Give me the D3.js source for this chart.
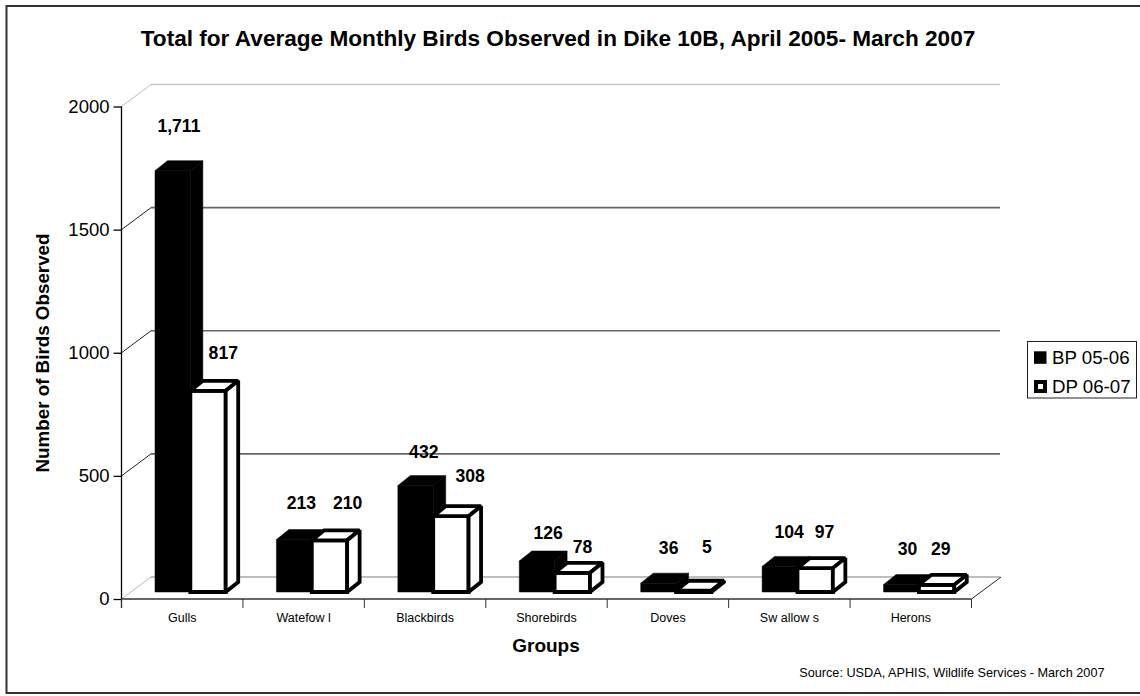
<!DOCTYPE html>
<html>
<head>
<meta charset="utf-8">
<script src="https://cdn.jsdelivr.net/npm/d3@7/dist/d3.min.js"></script>
<style>
html,body{margin:0;padding:0;background:#fff;overflow:hidden}
svg{display:block}
text{font-family:"Liberation Sans",Arial,sans-serif;fill:#000}
</style>
</head>
<body>
<svg id="c" width="1140" height="696"></svg>
<script>
// ---- data ----
const categories = ["Gulls","Watefow l","Blackbirds","Shorebirds","Doves","Sw allow s","Herons"];
const seriesNames = ["BP 05-06","DP 06-07"];
const bp0506 = [1711,213,432,126,36,104,30];
const dp0607 = [817,210,308,78,5,97,29];
const yTicks = [0,500,1000,1500,2000];
// label nudges (px) relative to the top of each bar, per series
const nudgeXBP = [0,1,2,5,4,3,0];
const nudgeYBP = [-35,-27,-24,-18,-25,-25,-26];
const nudgeXDP = [9,12,13,4,7,3,-2];
const nudgeYDP = [-28,-27,-30,-16,-34,-26,-26];

// ---- layout ----
const svg = d3.select("#c");
const depthX = 29.5, depthY = -22;     // chart floor depth
const barDX = 12.5, barDY = -10;       // bar depth
const floorInset = 7;                  // bars stand this far behind the front axis
const x = d3.scaleBand().domain(categories).range([121.5,971.5]);
const inner = d3.scaleBand().domain(seriesNames).range([33.5,104.2]);
const y = d3.scaleLinear().domain([0,2000]).range([599,106.5]);

// frame
svg.append("rect").attr("x",6.5).attr("y",6).attr("width",1160).attr("height",687)
  .attr("fill","#fff").attr("stroke","#333").attr("stroke-width",2);

// back wall grid + left wall diagonals
const gridColor = v => v===2000 ? "#c8c8c8" : v===0 ? "#a8a8a8" : "#666";
const g = svg.append("g");
g.selectAll("line.grid").data(yTicks).join("line").attr("class","grid")
  .attr("x1",121.5+depthX).attr("x2",971.5+depthX-1)
  .attr("y1",d=>y(d)+depthY).attr("y2",d=>y(d)+depthY)
  .attr("stroke",gridColor).attr("stroke-width",1.6);
g.selectAll("line.diag").data(yTicks).join("line").attr("class","diag")
  .attr("x1",121.5).attr("x2",121.5+depthX)
  .attr("y1",d=>y(d)).attr("y2",d=>y(d)+depthY)
  .attr("stroke",d=>d===2000||d===0?"#bbb":"#222").attr("stroke-width",1);
g.append("line").attr("x1",971.5).attr("x2",971.5+depthX)
  .attr("y1",y(0)).attr("y2",y(0)+depthY).attr("stroke","#222").attr("stroke-width",1);

// bars
const rows = categories.map((c,i)=>({c,i}));
function drawBars(name, values, fill, stroke, sw){
  const G = svg.append("g");
  rows.forEach(r=>{
    const x0 = x(r.c)+inner(name), x1 = x0+inner.bandwidth();
    const yb = y(0)-floorInset, yt = y(values[r.i])-floorInset;
    const pts = (a)=>a.map(p=>p.join(",")).join(" ");
    const add = (a,f)=>G.append("polygon").attr("points",pts(a)).attr("fill",f)
      .attr("stroke",stroke).attr("stroke-width",sw)
      .attr("stroke-linejoin","miter").attr("stroke-miterlimit",1.5);
    add([[x0,yb],[x1,yb],[x1,yt],[x0,yt]],fill);
    add([[x0,yt],[x1,yt],[x1+barDX,yt+barDY],[x0+barDX,yt+barDY]],fill);
    add([[x1,yb],[x1+barDX,yb+barDY],[x1+barDX,yt+barDY],[x1,yt]],fill);
  });
}
drawBars(seriesNames[0],bp0506,"#000","#000",0.5);
drawBars(seriesNames[1],dp0607,"#fff","#000",3.8);

// axes
const yAxis = d3.axisLeft(y).tickValues(yTicks).tickSize(8).tickPadding(4).tickFormat(d3.format("d"));
const ya = svg.append("g").attr("transform","translate(121.5,0)").call(yAxis);
ya.selectAll("text").style("font-size","18.5px").style("font-family",'"Liberation Sans"').attr("fill","#000");
ya.selectAll("line,path").attr("stroke","#000").attr("stroke-width",1.3);
ya.select("path").attr("d",`M0,${y(2000)}V${y(0)+9}`);

const xAxis = d3.axisBottom(x).tickSize(0).tickPadding(14);
const xa = svg.append("g").attr("transform",`translate(0,${y(0)})`).call(xAxis);
xa.selectAll("text").style("font-size","12.5px").style("font-family",'"Liberation Sans"').attr("fill","#222");
xa.select("path").attr("d","M121.5,0H971.5").attr("stroke","#333").attr("stroke-width",1.6);
const edges = x.domain().map(d=>x(d)).concat([x.range()[1]]);
svg.append("g").selectAll("line").data(edges).join("line")
  .attr("x1",d=>d).attr("x2",d=>d).attr("y1",y(0)).attr("y2",y(0)+9)
  .attr("stroke","#333").attr("stroke-width",1);

// value labels
const fmt = d3.format(",");
function drawLabels(name, values, nx, ny){
  svg.append("g").selectAll("text").data(rows).join("text")
    .attr("x",r=>x(r.c)+inner(name)+inner.bandwidth()/2+barDX/2+nx[r.i])
    .attr("y",r=>y(values[r.i])-floorInset+barDY+ny[r.i])
    .attr("dy","0.35em").attr("text-anchor","middle")
    .style("font-size","17.6px").style("font-weight","bold")
    .text(r=>fmt(values[r.i]));
}
drawLabels(seriesNames[0],bp0506,nudgeXBP,nudgeYBP);
drawLabels(seriesNames[1],dp0607,nudgeXDP,nudgeYDP);

// titles
svg.append("text").attr("x",558).attr("y",38).attr("dy","0.35em").attr("text-anchor","middle")
  .style("font-size","22.6px").style("font-weight","bold")
  .text("Total for Average Monthly Birds Observed in Dike 10B, April 2005- March 2007");
svg.append("text").attr("x",546).attr("y",645).attr("dy","0.35em").attr("text-anchor","middle")
  .style("font-size","19px").style("font-weight","bold").text("Groups");
svg.append("text").attr("transform","translate(42,353) rotate(-90)").attr("dy","0.35em").attr("text-anchor","middle")
  .style("font-size","18.8px").style("font-weight","bold").text("Number of Birds Observed");
svg.append("text").attr("x",1104.5).attr("y",673).attr("dy","0.35em").attr("text-anchor","end")
  .style("font-size","12.7px").attr("fill","#222").text("Source: USDA, APHIS, Wildlife Services - March 2007");

// legend
const lg = svg.append("g");
lg.append("rect").attr("x",1027.5).attr("y",341.5).attr("width",109).attr("height",56.5)
  .attr("fill","#fff").attr("stroke","#222").attr("stroke-width",1);
const legY = d3.scalePoint().domain(seriesNames).range([357.5,386.5]);
lg.selectAll("rect.sw").data(seriesNames).join("rect").attr("class","sw")
  .attr("x",(d,i)=>i?1036:1034).attr("width",(d,i)=>i?9:12.5)
  .attr("y",(d,i)=>legY(d)-(i?4.5:6.2)).attr("height",(d,i)=>i?9:12.5)
  .attr("fill",(d,i)=>i?"#fff":"#000").attr("stroke",(d,i)=>i?"#000":"none").attr("stroke-width",4);
lg.selectAll("text").data(seriesNames).join("text")
  .attr("x",1052).attr("y",d=>legY(d)).attr("dy","0.35em")
  .style("font-size","18.7px").text(d=>d);
</script>
</body>
</html>
